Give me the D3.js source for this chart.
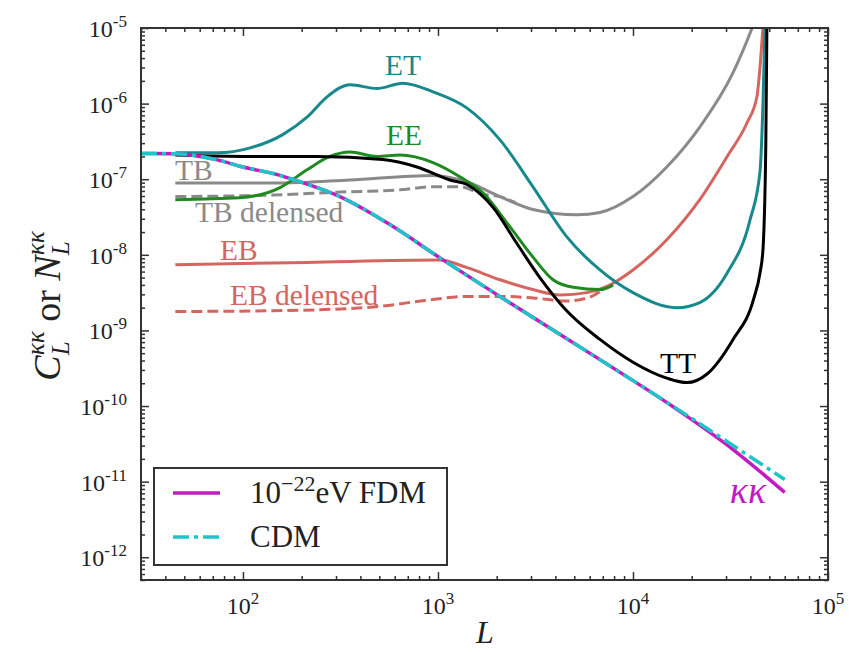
<!DOCTYPE html>
<html>
<head>
<meta charset="utf-8">
<script src="https://cdn.jsdelivr.net/npm/d3@7"></script>
<style>
  body { margin: 0; background: #fff; }
  svg { display: block; }
  text { font-family: "Liberation Serif", "Times New Roman", serif; }
</style>
</head>
<body>
<script>
// multipole L and spectra
const kkL     = [30, 45, 74, 100, 150, 196, 314, 567, 1023, 2080, 6770, 16000, 32600, 60000];
const fdmVals = [2.19e-7, 2.17e-7, 1.80e-7, 1.45e-7, 1.15e-7, 9.25e-8, 5.89e-8, 2.51e-8, 9.12e-9, 2.80e-9, 4.11e-10, 9.84e-11, 2.66e-11, 7.2e-12];
const cdmVals = [2.19e-7, 2.17e-7, 1.80e-7, 1.45e-7, 1.15e-7, 9.25e-8, 5.89e-8, 2.51e-8, 9.12e-9, 2.80e-9, 4.11e-10, 1.0e-10, 3.0e-11, 1.07e-11];

const etL    = [45, 74, 109, 160, 213, 270, 354, 486, 661, 943, 1410, 2080, 3070, 4570, 6770, 10000, 16800, 22000, 30400, 39800, 44800, 46400, 47500, 48500];
const etVals = [2.24e-7, 2.24e-7, 2.60e-7, 3.89e-7, 6.61e-7, 1.23e-6, 1.78e-6, 1.58e-6, 1.86e-6, 1.43e-6, 8.71e-7, 3.31e-7, 7.94e-8, 1.74e-8, 6.31e-9, 3.16e-9, 2.0e-9, 2.34e-9, 5.75e-9, 2.88e-8, 1.26e-7, 1.0e-6, 1.0e-5, 3.0e-5];

const eeL    = [45, 96, 155, 213, 279, 354, 486, 638, 943, 1300, 1700, 2340, 3070, 3890, 4940, 6770, 7900];
const eeVals = [5.37e-8, 5.69e-8, 7.76e-8, 1.33e-7, 2.0e-7, 2.29e-7, 2.0e-7, 2.09e-7, 1.66e-7, 1.07e-7, 6.61e-8, 2.34e-8, 9.33e-9, 4.68e-9, 3.72e-9, 3.47e-9, 3.98e-9];

const ttL    = [45, 109, 240, 521, 780, 1150, 1410, 1910, 2540, 3330, 4570, 6770, 10000, 14900, 18900, 23900, 32600, 41500, 44800, 46400, 48000, 48600, 49000];
const ttVals = [2.09e-7, 2.0e-7, 2.0e-7, 1.82e-7, 1.45e-7, 9.77e-8, 8.51e-8, 4.27e-8, 1.41e-8, 5.0e-9, 1.82e-9, 7.6e-10, 3.8e-10, 2.34e-10, 2.04e-10, 2.63e-10, 7.59e-10, 2.57e-9, 5.75e-9, 1.17e-8, 3.16e-7, 1.0e-5, 3.0e-5];

const tbL    = [45, 160, 354, 943, 1410, 2080, 3070, 5170, 6770, 10000, 14900, 22000, 32600, 40800, 45000];
const tbVals = [8.91e-8, 8.91e-8, 9.77e-8, 1.12e-7, 9.2e-8, 5.89e-8, 3.98e-8, 3.39e-8, 3.63e-8, 5.89e-8, 1.45e-7, 4.90e-7, 2.57e-6, 1.0e-5, 2.0e-5];

const tbdL    = [45, 142, 314, 638, 943, 1300, 1700, 2080, 2500];
const tbdVals = [5.89e-8, 6.17e-8, 6.76e-8, 7.24e-8, 7.94e-8, 7.94e-8, 6.31e-8, 5.89e-8, 4.9e-8];

const ebL    = [45, 213, 1020, 1410, 2080, 3070, 4230, 5800, 7310, 10000, 14900, 22000, 30400, 38500, 43200, 44800, 46400, 47500];
const ebVals = [7.41e-9, 7.94e-9, 8.51e-9, 6.76e-9, 4.68e-9, 3.47e-9, 2.95e-9, 3.16e-9, 3.80e-9, 6.31e-9, 1.58e-8, 5.37e-8, 2.0e-7, 5.62e-7, 1.23e-6, 3.02e-6, 1.0e-5, 2.0e-5];

const ebdL    = [45, 142, 464, 943, 1410, 2080, 3070, 4570, 6000, 7310];
const ebdVals = [1.78e-9, 1.82e-9, 2.04e-9, 2.57e-9, 2.82e-9, 2.82e-9, 2.69e-9, 2.45e-9, 2.75e-9, 3.80e-9];

const yTickExp = [-12, -11, -10, -9, -8, -7, -6, -5];
const xTickExp = [2, 3, 4, 5];

const W = 854, H = 652;
const plot = { left: 141, right: 828, top: 28, bottom: 580 };

const colors = {
  et: "#17898c", ee: "#1f8a1f", tt: "#000000", tb: "#8a8a8a",
  eb: "#d4665f", fdm: "#c21bc2", cdm: "#1fc4c8"
};

const svg = d3.select("body").append("svg").attr("width", W).attr("height", H);
svg.append("rect").attr("width", W).attr("height", H).attr("fill", "#fff");

const x = d3.scaleLog().domain([30, 1e5]).range([plot.left, plot.right]);
const y = d3.scaleLog().domain([5e-13, 1e-5]).range([plot.bottom, plot.top]);

svg.append("clipPath").attr("id", "clip")
  .append("rect")
  .attr("x", plot.left).attr("y", plot.top)
  .attr("width", plot.right - plot.left).attr("height", plot.bottom - plot.top);

// minor tick positions
function minors(lo, hi) {
  const out = [];
  for (let e = Math.floor(Math.log10(lo)); e <= Math.ceil(Math.log10(hi)); e++) {
    for (let m = 2; m <= 9; m++) {
      const v = m * Math.pow(10, e);
      if (v >= lo && v <= hi) out.push(v);
    }
  }
  return out;
}
const xMajor = xTickExp.map(e => Math.pow(10, e));
const yMajor = yTickExp.map(e => Math.pow(10, e));
const xMinor = minors(30, 1e5);
const yMinor = minors(5e-13, 1e-5);

function drawAxis(axisFn, scale, vals, size, transform) {
  const g = svg.append("g").attr("transform", transform)
    .call(axisFn(scale).tickValues(vals).tickSize(-size).tickFormat(""));
  g.select(".domain").remove();
  g.selectAll("line").attr("stroke", "#333").attr("stroke-width", 1.5);
}
drawAxis(d3.axisBottom, x, xMajor, 8, `translate(0,${plot.bottom})`);
drawAxis(d3.axisBottom, x, xMinor, 4, `translate(0,${plot.bottom})`);
drawAxis(d3.axisTop, x, xMajor, 8, `translate(0,${plot.top})`);
drawAxis(d3.axisTop, x, xMinor, 4, `translate(0,${plot.top})`);
drawAxis(d3.axisLeft, y, yMajor, 8, `translate(${plot.left},0)`);
drawAxis(d3.axisLeft, y, yMinor, 4, `translate(${plot.left},0)`);
drawAxis(d3.axisRight, y, yMajor, 8, `translate(${plot.right},0)`);
drawAxis(d3.axisRight, y, yMinor, 4, `translate(${plot.right},0)`);

// curves
const line = d3.line()
  .x(d => x(d[0]))
  .y(d => y(d[1]))
  .curve(d3.curveMonotoneX);

const curves = svg.append("g").attr("clip-path", "url(#clip)");
function drawCurve(Ls, vals, color, dash, width) {
  curves.append("path")
    .datum(d3.zip(Ls, vals))
    .attr("d", line)
    .attr("fill", "none")
    .attr("stroke", color)
    .attr("stroke-width", width || 3)
    .attr("stroke-dasharray", dash || null)
    .attr("stroke-linejoin", "round");
}
drawCurve(tbdL, tbdVals, colors.tb, "11,5");
drawCurve(tbL, tbVals, colors.tb);
drawCurve(ebdL, ebdVals, colors.eb, "11,5");
drawCurve(ebL, ebVals, colors.eb);
drawCurve(eeL, eeVals, colors.ee);
drawCurve(etL, etVals, colors.et);
drawCurve(ttL, ttVals, colors.tt);
drawCurve(kkL, fdmVals, colors.fdm, null, 3.5);
drawCurve(kkL, cdmVals, colors.cdm, "16,5,4,5", 3.5);

// frame
svg.append("rect")
  .attr("x", plot.left).attr("y", plot.top)
  .attr("width", plot.right - plot.left).attr("height", plot.bottom - plot.top)
  .attr("fill", "none").attr("stroke", "#333").attr("stroke-width", 2);

// tick labels 10^n
function powLabel(px, py, exp, anchor) {
  const t = svg.append("text")
    .attr("x", px).attr("y", py)
    .attr("text-anchor", anchor)
    .attr("font-family", "DejaVu Serif")
    .attr("font-size", 24).attr("fill", "#222");
  t.append("tspan").text("10");
  t.append("tspan").attr("font-size", 17).attr("dy", -10).text(exp < 0 ? "-" + (-exp) : String(exp));
}
xTickExp.forEach(e => powLabel(x(Math.pow(10, e)), 614, e, "middle"));
yTickExp.forEach(e => powLabel(127, y(Math.pow(10, e)) + 9, e, "end"));

// curve annotations
const notes = [
  { t: "ET", x: 403, y: 75, c: colors.et, a: "middle" },
  { t: "EE", x: 404, y: 145, c: colors.ee, a: "middle" },
  { t: "TB", x: 175, y: 180, c: colors.tb, a: "start" },
  { t: "TB delensed", x: 195, y: 222, c: colors.tb, a: "start" },
  { t: "EB", x: 220, y: 260, c: colors.eb, a: "start" },
  { t: "EB delensed", x: 230, y: 305, c: colors.eb, a: "start" },
  { t: "TT", x: 678, y: 373, c: colors.tt, a: "middle" }
];
svg.selectAll("text.note")
  .data(notes)
  .join("text")
  .attr("class", "note")
  .attr("x", d => d.x).attr("y", d => d.y)
  .attr("text-anchor", d => d.a)
  .attr("font-size", 29.5)
  .attr("fill", d => d.c)
  .text(d => d.t);
svg.append("text")
  .attr("x", 748).attr("y", 503)
  .attr("text-anchor", "middle")
  .attr("font-size", 38).attr("font-style", "italic")
  .attr("fill", colors.fdm)
  .text("κκ");

// legend
const lg = svg.append("g");
lg.append("rect")
  .attr("x", 154).attr("y", 468).attr("width", 293).attr("height", 97)
  .attr("fill", "#fff").attr("stroke", "#333").attr("stroke-width", 2);
lg.append("line").attr("x1", 173).attr("x2", 220).attr("y1", 493).attr("y2", 493)
  .attr("stroke", colors.fdm).attr("stroke-width", 3.5);
lg.append("line").attr("x1", 173).attr("x2", 220).attr("y1", 537).attr("y2", 537)
  .attr("stroke", colors.cdm).attr("stroke-width", 3.5).attr("stroke-dasharray", "16,5,4,5");
const l1 = lg.append("text").attr("x", 250).attr("y", 503).attr("font-size", 31).attr("fill", "#222");
l1.append("tspan").text("10");
l1.append("tspan").attr("font-size", 22).attr("dy", -12).text("−22");
l1.append("tspan").attr("dy", 12).text("eV FDM");
lg.append("text").attr("x", 250).attr("y", 547).attr("font-size", 31).attr("fill", "#222").text("CDM");

// axis labels
svg.append("text")
  .attr("x", 485).attr("y", 643)
  .attr("text-anchor", "middle")
  .attr("font-size", 32).attr("font-style", "italic").attr("fill", "#222")
  .text("L");

const yl = svg.append("g").attr("transform", "translate(60,306) rotate(-90)");
let cx = 0;
function piece(str, size, italic, dy) {
  const t = yl.append("text")
    .attr("x", cx).attr("y", dy)
    .attr("font-size", size)
    .attr("font-style", italic ? "italic" : "normal")
    .attr("fill", "#222")
    .text(str);
  return t.node().getComputedTextLength();
}
function symbol(letter) {
  cx += piece(letter, 38, true, 0);
  const w1 = piece("κκ", 25, true, -16);
  const w2 = piece("L", 25, true, 9);
  cx += Math.max(w1, w2);
}
symbol("C");
cx += piece("\u00a0or\u00a0", 38, false, 0);
symbol("N");
yl.selectAll("text").attr("transform", `translate(${-cx / 2},0)`);
</script>
</body>
</html>
